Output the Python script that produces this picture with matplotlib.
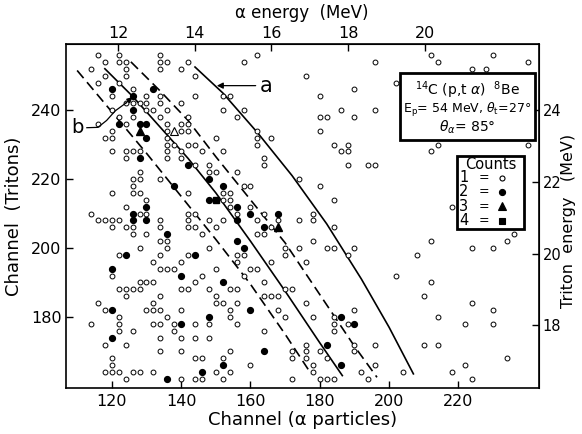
import matplotlib
matplotlib.use("Agg")
import matplotlib.pyplot as plt
from matplotlib.patches import Rectangle

# ---------------- data ----------------
open_x = [116,122,118,122,124,114,124,118,124,116,122,
          120,124,120,122,116,124,120,118,120,120,124,124,
          120,124,114,116,118,120,122,120,124,
          122,120,122,124,124,116,118,114,122,122,122,118,124,120,120,118,120,122,124,
          134,134,136,134,142,140,144,126,134,130,144,126,128,130,134,140,130,132,136,152,
          126,134,142,136,140,142,136,140,142,150,136,136,138,142,144,126,128,136,140,146,152,
          136,140,144,148,148,150,128,126,128,134,126,126,128,142,152,130,152,128,130,142,144,152,
          134,142,126,134,142,144,148,152,150,126,130,146,134,136,136,128,148,134,142,132,140,
          134,136,138,150,146,128,130,132,144,126,128,140,142,148,134,150,132,150,152,130,132,134,140,
          136,132,134,138,144,148,126,138,134,140,144,148,134,140,144,146,152,126,128,132,150,
          140,144,146,152,
          162,158,176,154,180,158,156,180,182,180,162,162,162,166,184,164,164,156,174,180,158,160,
          154,154,184,154,160,156,164,178,
          162,168,174,178,166,164,162,184,178,170,174,182,184,156,158,170,156,166,176,160,162,158,
          164,154,156,170,172,164,166,168,156,176,154,168,154,170,178,156,184,164,184,176,154,172,
          176,180,172,176,182,160,178,154,178,172,180,182,184,
          196,212,214,230,240,224,228,202,190,186,196,190,188,186,188,214,212,240,188,194,196,218,
          190,188,212,208,236,234,224,230,202,212,210,224,190,184,230,214,188,222,230,196,190,190,
          210,214,234,196,222,192,204,218,194,224]
open_y = [256,256,254,254,254,252,252,250,250,248,248,
          244,242,240,238,236,236,234,232,232,228,228,226,
          216,212,210,208,208,208,208,206,206,
          198,192,188,188,186,184,182,178,180,178,176,172,172,168,166,164,164,164,162,
          256,254,254,252,254,252,250,246,244,244,244,242,242,242,242,242,240,240,240,240,
          238,238,238,236,236,236,234,234,234,232,232,230,230,230,230,228,228,228,228,228,228,
          226,226,224,224,222,222,222,220,220,220,218,216,216,216,216,214,214,210,210,210,210,244,
          208,208,206,206,206,206,208,208,206,204,204,204,202,202,200,200,200,198,198,196,196,
          194,194,194,194,192,190,190,190,190,188,188,188,188,188,186,186,184,184,184,182,182,182,182,
          180,178,178,178,178,178,176,176,174,174,174,174,170,170,168,168,168,164,164,164,164,
          162,162,162,162,
          256,254,250,244,244,240,238,238,238,234,234,232,230,232,230,226,224,222,220,218,218,218,
          216,214,214,212,212,210,210,210,
          208,208,208,208,206,204,204,206,202,200,200,200,200,198,198,198,196,196,196,194,194,192,
          190,188,188,188,188,186,186,186,184,184,182,182,180,180,180,178,178,176,176,172,170,170,
          170,170,168,168,168,166,166,164,164,162,162,162,162,
          254,256,254,256,254,252,252,248,246,240,240,238,230,228,228,230,228,230,224,224,224,212,
          200,198,202,198,204,202,200,200,192,190,186,184,182,180,182,180,178,178,178,172,172,170,
          172,172,168,166,166,164,164,164,162,162]

filled_x = [120,122,124,120,120,120,
            132,126,126,128,130,130,128,142,148,152,138,148,130,126,
            126,130,136,144,140,152,148,140,152,146,136,
            156,160,168,156,164,156,158,160,182,164,186,190,186]
filled_y = [246,236,198,194,182,174,
            246,244,240,236,236,232,226,224,220,218,218,214,212,210,
            208,208,204,198,192,190,180,178,166,164,162,
            212,210,210,208,206,202,200,182,172,170,180,178,166]

tri_x = [128, 168]
tri_y = [234, 206]
open_tri_x = [138]
open_tri_y = [234]
square_x = [150]
square_y = [214]

# reference curves (channel coordinates)
l1_x = [110, 120, 130, 140, 150, 160, 170, 177.5]
l1_y = [251.5, 239.5, 227.5, 215, 202.5, 189.5, 175, 163.5]
l2_x = [118, 126, 134, 142, 150, 160, 170, 180, 186.5]
l2_y = [252, 244, 235, 226, 216, 202, 187.5, 172.5, 163]
l3_x = [125.5, 134, 142, 150, 160, 170, 180, 190, 196.5]
l3_y = [254, 245.5, 237, 226.5, 214, 201.5, 186.5, 171.5, 162.5]
la_x = [144, 152, 162, 172, 182, 192, 200, 207]
la_y = [252.5, 245, 233.5, 221, 207, 191, 177, 163.5]

b_path_x = [112.8, 116, 118.5, 121, 124]
b_path_y = [234.9, 235, 237, 239.8, 242]

x_ticks = [120, 140, 160, 180, 200, 220]
y_ticks = [180, 200, 220, 240]
alpha_ticks = [12, 14, 16, 18, 20]
triton_ticks = [18, 20, 22, 24]

# energy calibrations (channel = c0 + (E - e0) * k)
A_C0, A_E0, A_K = 121.9, 12.0, 11.04
T_C0, T_E0, T_K = 240.0, 24.0, 10.4

# ---------------- figure ----------------
plt.rcParams['font.family'] = ['DejaVu Sans']
fig = plt.figure(figsize=(5.82, 4.34), dpi=100)
ax = fig.add_axes([0.1129, 0.106, 0.8124, 0.792])
ax.set_xlim(106.7, 243.1)
ax.set_ylim(159.4, 259.1)

dash = (6.0, 3.2)
ax.plot(l1_x, l1_y, color='black', lw=1.2, dashes=dash)
ax.plot(l2_x, l2_y, color='black', lw=1.2)
ax.plot(l3_x, l3_y, color='black', lw=1.2, dashes=dash)
ax.plot(la_x, la_y, color='black', lw=1.2)

ax.plot(open_x, open_y, 'o', ms=3.5, mfc='white', mec='black', mew=0.7, ls='none')
ax.plot(filled_x, filled_y, 'o', ms=4.2, mfc='black', mec='black', ls='none')
ax.plot(tri_x, tri_y, '^', ms=5.5, mfc='black', mec='black', ls='none')
ax.plot(open_tri_x, open_tri_y, '^', ms=5.5, mfc='white', mec='black', mew=0.8, ls='none')
ax.plot(square_x, square_y, 's', ms=4.6, mfc='black', mec='black', ls='none')

# labels a and b
ax.annotate('', xy=(150.3, 247.1), xytext=(161.5, 247.1),
            arrowprops=dict(arrowstyle='-|>', color='black', lw=0.9,
                            mutation_scale=9, shrinkA=0, shrinkB=0))
ax.text(162.6, 247.0, 'a', fontsize=15, va='center', ha='left')
ax.plot(b_path_x, b_path_y, color='black', lw=0.9)
ax.annotate('', xy=(126.0, 243.8), xytext=(124, 242),
            arrowprops=dict(arrowstyle='-|>', color='black', lw=0.9,
                            mutation_scale=8, shrinkA=0, shrinkB=0))
ax.text(111.8, 234.9, 'b', fontsize=14, va='center', ha='right')

ax.set_xticks(x_ticks)
ax.set_yticks(y_ticks)
ax.tick_params(direction='in', length=5, width=1, labelsize=11.5, pad=4)
ax.tick_params(axis='y', pad=3)
for s in ax.spines.values():
    s.set_linewidth(1.2)

ax.set_xlabel('Channel (α particles)', fontsize=13, labelpad=2)
ax.set_ylabel('Channel  (Tritons)', fontsize=13, labelpad=6)

top = ax.secondary_xaxis('top', functions=(lambda c: A_E0 + (c - A_C0) / A_K,
                                          lambda e: A_C0 + (e - A_E0) * A_K))
top.set_xticks(alpha_ticks)
top.tick_params(direction='in', length=5, width=1, labelsize=11.5, pad=2)
top.set_xlabel('α energy  (MeV)', fontsize=12, labelpad=6)

right = ax.secondary_yaxis('right', functions=(lambda c: T_E0 + (c - T_C0) / T_K,
                                              lambda e: T_C0 + (e - T_E0) * T_K))
right.set_yticks(triton_ticks)
right.tick_params(direction='in', length=5, width=1, labelsize=10.5, pad=3)
fig.text(0.976, 0.49, 'Triton  energy   (MeV)', rotation=90, fontsize=11.5,
         ha='center', va='center')

# reaction info box
ax.add_patch(Rectangle((0.706, 0.7216), 0.2866, 0.1949, transform=ax.transAxes,
                       fill=True, facecolor='white', edgecolor='black', lw=2, zorder=5))
ax.text(0.849, 0.866, r'$^{14}$C (p,t $\alpha$)  $^{8}$Be', transform=ax.transAxes,
        ha='center', va='center', fontsize=10, zorder=6)
ax.text(0.849, 0.810, r'E$_{\rm p}$= 54 MeV, $\theta_{\rm t}$=27°', transform=ax.transAxes,
        ha='center', va='center', fontsize=9, zorder=6)
ax.text(0.849, 0.758, r'$\theta_\alpha$= 85°', transform=ax.transAxes,
        ha='center', va='center', fontsize=10, zorder=6)

# counts legend box
ax.add_patch(Rectangle((0.8276, 0.4626), 0.1417, 0.2124, transform=ax.transAxes,
                       fill=True, facecolor='white', edgecolor='black', lw=2, zorder=5))
ax.text(0.899, 0.650, 'Counts', transform=ax.transAxes, ha='center', va='center',
        fontsize=10.5, zorder=6)
count_labels = ['1', '2', '3', '4']
count_markers = [('o', 'white', 3.6), ('o', 'black', 4.4), ('^', 'black', 5.2), ('s', 'black', 4.6)]
row_y = [0.612, 0.571, 0.529, 0.487]
for lab, (mk, fc, ms), yy in zip(count_labels, count_markers, row_y):
    ax.text(0.842, yy, lab, transform=ax.transAxes, ha='center', va='center',
            fontsize=10.5, zorder=6)
    ax.text(0.884, yy, '=', transform=ax.transAxes, ha='center', va='center',
            fontsize=9, zorder=6)
    ax.plot([0.922], [yy], mk, transform=ax.transAxes, ms=ms, mfc=fc, mec='black',
            mew=0.8, zorder=7, clip_on=False)

fig.savefig('out.png', dpi=100, facecolor='white')
